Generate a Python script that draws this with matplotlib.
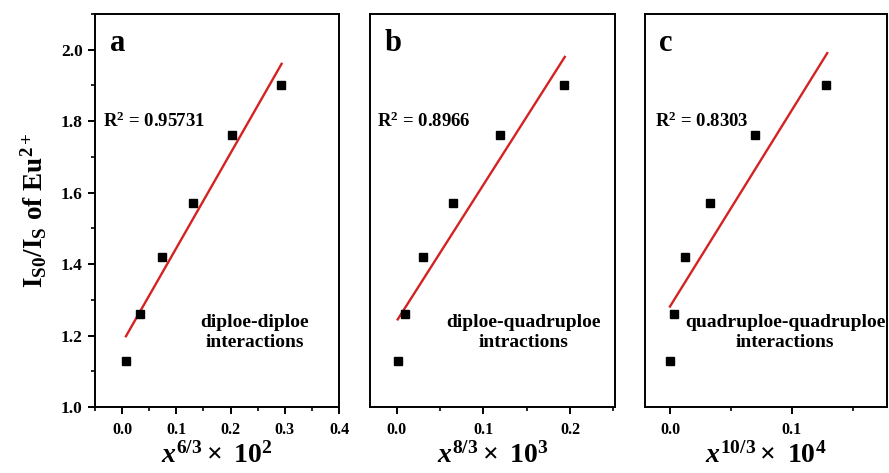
import numpy as np
import matplotlib
matplotlib.use('Agg')
import matplotlib.pyplot as plt
from matplotlib.ticker import MultipleLocator, FormatStrFormatter

plt.rcParams['font.family'] = ['Liberation Serif', 'DejaVu Serif']
plt.rcParams['font.weight'] = 'bold'
plt.rcParams['mathtext.fontset'] = 'custom'
plt.rcParams['mathtext.rm'] = 'Liberation Serif'
plt.rcParams['mathtext.it'] = 'Liberation Serif:italic'
plt.rcParams['mathtext.bf'] = 'Liberation Serif:bold'

# intensity ratio, same for all three panels
ratio = [1.13, 1.26, 1.42, 1.57, 1.76, 1.90]

x_a = [0.007, 0.033, 0.073, 0.130, 0.203, 0.293]   # x^(6/3) * 10^2
x_b = [0.001, 0.010, 0.030, 0.065, 0.119, 0.193]   # x^(8/3) * 10^3
x_c = [0.000, 0.003, 0.012, 0.033, 0.070, 0.128]   # x^(10/3) * 10^4

letters = ['a', 'b', 'c']
r2_labels = ['R$^{\\mathrm{2}}$ = 0.95731', 'R$^{\\mathrm{2}}$ = 0.8966', 'R$^{\\mathrm{2}}$ = 0.8303']
mech_labels = ['diploe-diploe\ninteractions',
               'diploe-quadruploe\nintractions',
               'quadruploe-quadruploe\ninteractions']
xlabels = [r'$\mathit{x}^{\mathrm{6/3}}\times\ \mathbf{10}^{\mathrm{2}}$',
           r'$\mathit{x}^{\mathrm{8/3}}\times\ \mathbf{10}^{\mathrm{3}}$',
           r'$\mathit{x}^{\mathrm{10/3}}\times\ \mathbf{10}^{\mathrm{4}}$']

fig = plt.figure(figsize=(8.89, 4.73), dpi=100)

rects = [[0.1069, 0.1395, 0.2745, 0.8309],
         [0.4162, 0.1395, 0.2756, 0.8309],
         [0.7255, 0.1395, 0.2722, 0.8309]]
xlims = [(-0.05, 0.4), (-0.031, 0.252), (-0.0205, 0.178)]
xdata = [x_a, x_b, x_c]
r2_pos = [(0.033, 0.728), (0.03, 0.728), (0.04, 0.728)]
mech_pos = [(0.654, 0.19), (0.627, 0.19), (0.579, 0.19)]

for i in range(3):
    ax = fig.add_axes(rects[i])
    x = np.array(xdata[i])
    y = np.array(ratio)

    k, b = np.polyfit(x, y, 1)
    xx = np.array([x.min(), x.max() + 0.001])
    ax.plot(xx, k * xx + b, color='#d42222', lw=1.7, zorder=2)
    ax.plot(x, y, 's', color='black', ms=5.5, zorder=3)

    ax.set_xlim(*xlims[i])
    ax.set_ylim(1.0, 2.1)
    ax.xaxis.set_major_locator(MultipleLocator(0.1))
    ax.xaxis.set_minor_locator(MultipleLocator(0.05))
    ax.xaxis.set_major_formatter(FormatStrFormatter('%.1f'))

    for s in ax.spines.values():
        s.set_linewidth(1.4)

    ax.tick_params(axis='x', which='major', direction='out', length=5, width=1.4,
                   labelsize=11.5, pad=6)
    ax.tick_params(axis='x', which='minor', direction='out', length=3, width=1.2)
    ax.tick_params(top=False, right=False)

    if i == 0:
        ax.yaxis.set_major_locator(MultipleLocator(0.2))
        ax.yaxis.set_minor_locator(MultipleLocator(0.1))
        ax.yaxis.set_major_formatter(FormatStrFormatter('%.1f'))
        ax.tick_params(axis='y', which='major', direction='out', length=5, width=1.4,
                       labelsize=12.5, pad=4)
        ax.tick_params(axis='y', which='minor', direction='out', length=3, width=1.2)
        ax.set_ylabel(r'$\mathbf{I_{S0}/I_S\ of\ Eu^{2+}}$', fontsize=19.5, labelpad=8)
    else:
        ax.set_yticks([])

    ax.set_xlabel(xlabels[i], fontsize=20, labelpad=3)

    ax.text(0.06, 0.962, letters[i], transform=ax.transAxes, fontsize=22,
            fontweight='bold', ha='left', va='top')
    ax.text(r2_pos[i][0], r2_pos[i][1], r2_labels[i], transform=ax.transAxes,
            fontsize=13.5, fontweight='bold', ha='left', va='center')
    ax.text(mech_pos[i][0], mech_pos[i][1], mech_labels[i], transform=ax.transAxes,
            fontsize=14, fontweight='bold', ha='center', va='center',
            multialignment='center', linespacing=1.25)

fig.savefig('out.png', dpi=100)
